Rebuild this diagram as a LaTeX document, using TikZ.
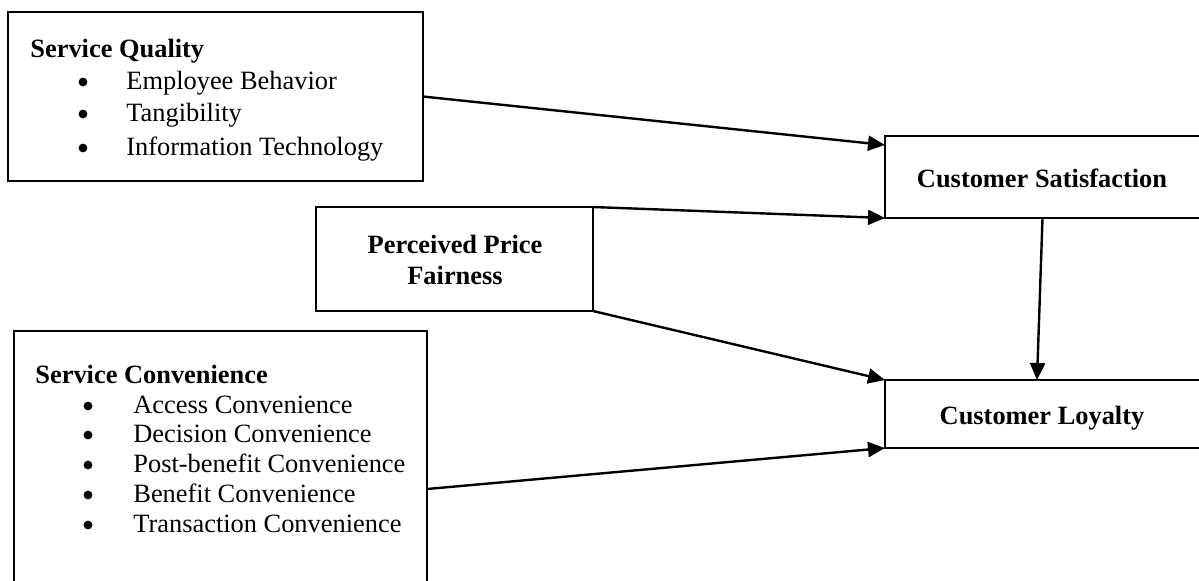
\documentclass[tikz,border=0pt]{standalone}
\usepackage{fontspec}
\setmainfont{Liberation Serif}
\usetikzlibrary{arrows.meta}

\begin{document}
\begin{tikzpicture}[x=0.5pt,y=-0.5pt,
  box/.style={draw, line width=1.35pt, rectangle, outer sep=0pt, inner sep=0pt},
  lbl/.style={inner sep=0pt, anchor=base west, font=\fontsize{13.2}{16}\selectfont},
  title/.style={lbl, font=\fontsize{13.2}{16}\selectfont\bfseries},
  ctitle/.style={inner sep=0pt, anchor=base, font=\fontsize{13.2}{16}\selectfont\bfseries},
  dot/.style={circle, fill, inner sep=0pt, minimum size=4.4pt},
  link/.style={line width=1.2pt, -{Triangle[length=8.5pt,width=7.5pt]}}
]
\useasboundingbox (0,0) rectangle (1199,580);
\clip (0,0) rectangle (1199,580);

% boxes
\node[box, minimum width=207.5pt, minimum height=84.5pt] (sq) at (215.5,96.5) {};
\node[box, minimum width=138.5pt, minimum height=52pt] (ppf) at (454.5,259) {};
\node[box, minimum width=157.5pt, minimum height=41pt] (cs) at (1042.5,177) {};
\node[box, minimum width=157.5pt, minimum height=34pt] (cl) at (1042.5,414) {};
\node[box, minimum width=206.5pt, minimum height=144.5pt] (sc) at (220.5,475.5) {};

% Service Quality
\node[title] (sqt) at (30,57) {Service Quality};
\node[dot] (sqb1) at (83,82) {};
\node[dot] (sqb2) at (83,114) {};
\node[dot] (sqb3) at (83,148) {};
\node[lbl] (sq1) at (126,89) {Employee Behavior};
\node[lbl] (sq2) at (126,121) {Tangibility};
\node[lbl] (sq3) at (126,155) {Information Technology};

% Perceived Price Fairness
\node[ctitle] (ppf1) at (455,253) {Perceived Price};
\node[ctitle] (ppf2) at (455,284) {Fairness};

% Outcomes
\node[ctitle] (cst) at (1042,187) {Customer Satisfaction};
\node[ctitle] (clt) at (1042,424) {Customer Loyalty};

% Service Convenience
\node[title] (sct) at (35,383) {Service Convenience};
\node[dot] (scb1) at (88,406) {};
\node[dot] (scb2) at (88,435) {};
\node[dot] (scb3) at (88,465) {};
\node[dot] (scb4) at (88,495) {};
\node[dot] (scb5) at (88,525) {};
\node[lbl] (sc1) at (133,413) {Access Convenience};
\node[lbl] (sc2) at (133,442) {Decision Convenience};
\node[lbl] (sc3) at (133,472) {Post-benefit Convenience};
\node[lbl] (sc4) at (133,502) {Benefit Convenience};
\node[lbl] (sc5) at (133,532) {Transaction Convenience};

% paths
\draw[link] (sq.east) -- ([yshift=16pt]cs.west);
\draw[link] (ppf.north east) -- (cs.south west);
\draw[link] (ppf.south east) -- (cl.north west);
\draw[link] ([yshift=-6.75pt]sc.east) -- (cl.south west);
\draw[link] (cs.south) -- ([xshift=-2.75pt]cl.north);
\end{tikzpicture}
\end{document}
